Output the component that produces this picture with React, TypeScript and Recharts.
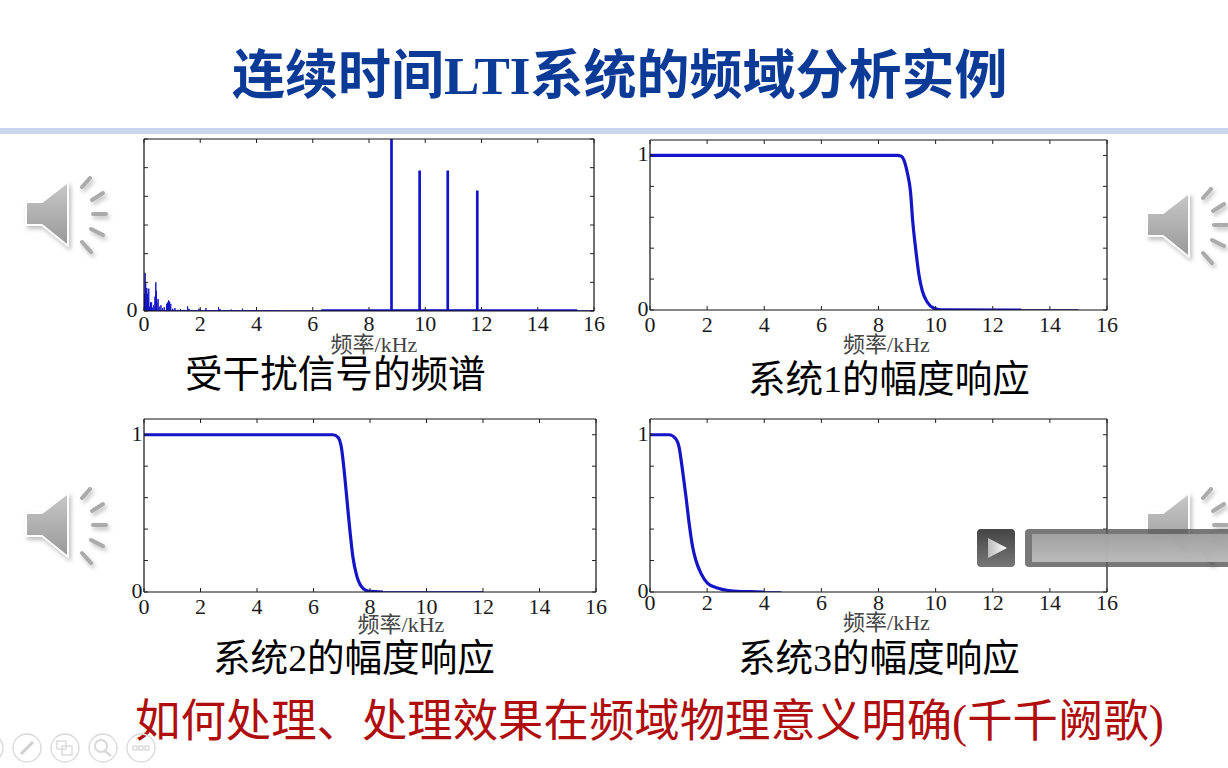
import React from "react";
import { ComposedChart, Line, XAxis, YAxis, Label } from "recharts";

const FONT = '"Liberation Serif", "Noto Sans CJK SC", serif';
const BLUE = "#1515c8";

const titleText = "连续时间LTI系统的频域分析实例";
const bottomText = "如何处理、处理效果在频域物理意义明确(千千阙歌)";
const freqLabel = "频率/kHz";
const freqTicks = [0, 2, 4, 6, 8, 10, 12, 14, 16];
const gainTicks = [0, 0.2, 0.4, 0.6, 0.8, 1];
const spectrumTicks = [0, 1, 2, 3, 4, 5, 6];

// Spectrum of the disturbed signal: frequency in kHz and stem amplitude
const noiseFreq = [0.02, 0.04, 0.06, 0.08, 0.1, 0.12, 0.14, 0.17, 0.2, 0.23, 0.27, 0.31, 0.35, 0.39, 0.42, 0.44, 0.46, 0.5, 0.54, 0.6, 0.66, 0.72, 0.8, 0.84, 0.87, 0.91, 0.95, 1.02, 1.1, 1.2, 1.3, 1.42, 1.55, 1.6, 1.7, 1.95, 2.0, 2.08, 2.2, 2.4, 2.65, 2.7, 2.85, 3.1, 3.3, 3.5, 3.75, 4.0, 4.4, 4.8];
const noiseAmp = [0.6, 1.33, 1.0, 0.8, 0.8, 0.6, 0.45, 0.78, 0.15, 0.3, 0.3, 0.12, 0.2, 0.5, 1.0, 0.7, 0.3, 0.42, 0.15, 0.2, 0.1, 0.13, 0.25, 0.3, 0.37, 0.33, 0.25, 0.08, 0.1, 0.04, 0.07, 0.04, 0.16, 0.08, 0.04, 0.08, 0.06, 0.03, 0.1, 0.03, 0.14, 0.07, 0.02, 0.05, 0.02, 0.08, 0.02, 0.04, 0.03, 0.01];
const toneFreq = [8.8, 9.8, 10.8, 11.85];
const toneAmp = [6.1, 4.9, 4.9, 4.2];
const floorFreq = [6.3, 15.4];
const floorAmp = [0.02, 0.02];
const thinFloorFreq = [0, 16];
const thinFloorAmp = [0, 0];

// Magnitude responses
const sys1Freq = [0, 8.66, 8.8, 8.89, 9.0, 9.12, 9.2, 9.3, 9.42, 9.53, 9.71, 9.94, 10.18, 13];
const sys1Gain = [1, 1, 0.995, 0.97, 0.896, 0.766, 0.57, 0.397, 0.223, 0.126, 0.05, 0.011, 0.001, 0];
const sys1TailFreq = [13, 15];
const sys1TailGain = [0, 0];

const sys2Freq = [0, 6.69, 6.87, 6.99, 7.1, 7.19, 7.28, 7.4, 7.52, 7.69, 7.93, 8.46];
const sys2Gain = [1, 1, 0.983, 0.915, 0.746, 0.576, 0.407, 0.216, 0.11, 0.036, 0.006, 0];
const sys2TailFreq = [8.46, 12];
const sys2TailGain = [0, 0];

const sys3Freq = [0, 0.67, 0.9, 1.02, 1.14, 1.26, 1.37, 1.49, 1.6, 1.78, 2.01, 2.36, 2.83, 3.53, 4];
const sys3Gain = [1, 1, 0.975, 0.92, 0.772, 0.605, 0.437, 0.289, 0.205, 0.12, 0.057, 0.025, 0.008, 0.002, 0];
const sys3TailFreq = [4, 4.6];
const sys3TailGain = [0, 0];

const zipRows = (f: number[], v: number[]) => f.map((x, i) => ({ f: x, v: v[i] }));
const stemRows = (f: number[], v: number[]) =>
  f.flatMap((x, i) => [{ f: x, v: 0 }, { f: x, v: v[i] }, { f: x, v: 0 }]);

const makeTick = (side: "b" | "t" | "l" | "r", labelled: number[], dx: number, dy: number) => (props: any) => {
  const { x, y, payload } = props;
  const len = 4;
  const v = payload.value;
  const line =
    side === "b" ? <line x1={x} x2={x} y1={y} y2={y - len} /> :
    side === "t" ? <line x1={x} x2={x} y1={y} y2={y + len} /> :
    side === "l" ? <line x1={x} x2={x + len} y1={y} y2={y} /> :
    <line x1={x} x2={x - len} y1={y} y2={y} />;
  return (
    <g>
      <g stroke="#222" strokeWidth={1}>{line}</g>
      {labelled.includes(v) && (
        <text x={x + dx} y={y + dy} textAnchor="middle" fontFamily={FONT} fontSize={22} fill="#1a1a1a">{v}</text>
      )}
    </g>
  );
};

type Series = { rows: { f: number; v: number }[]; width: number; monotone?: boolean; color?: string };

function Panel(p: {
  left: number; top: number; right: number; bottom: number;
  series: Series[]; yMax: number; yTicks: number[]; yLabelled: number[];
  xLabelDy: number; yLabelDx: number; titleDx: number; titleDy: number;
}) {
  const pad = 40;
  const w = p.right - p.left + pad * 2;
  const h = p.bottom - p.top + 70;
  return (
    <div style={{ position: "absolute", left: p.left - pad, top: p.top - 10 }}>
      <ComposedChart width={w} height={h} margin={{ top: 9, left: pad - 1, right: pad - 1, bottom: 59 }}>
        <XAxis xAxisId="b" dataKey="f" type="number" domain={[0, 16]} ticks={freqTicks} interval={0} height={1}
          orientation="bottom" stroke="#111" strokeWidth={1.2} tickLine={false} tickSize={0} tickMargin={0}
          allowDataOverflow tick={makeTick("b", freqTicks, 0, p.xLabelDy)}>
          <Label value={freqLabel} position="bottom" offset={p.titleDy} dx={p.titleDx}
            style={{ fontFamily: FONT, fontSize: 22, fill: "#444" }} />
        </XAxis>
        <XAxis xAxisId="t" dataKey="f" type="number" domain={[0, 16]} ticks={freqTicks} interval={0} height={1}
          orientation="top" stroke="#111" strokeWidth={1.2} tickLine={false} tickSize={0} tickMargin={0}
          allowDataOverflow tick={makeTick("t", [], 0, 0)} />
        <YAxis yAxisId="l" type="number" domain={[0, p.yMax]} ticks={p.yTicks} interval={0} width={1}
          orientation="left" stroke="#111" strokeWidth={1.2} tickLine={false} tickSize={0} tickMargin={0}
          allowDataOverflow tick={makeTick("l", p.yLabelled, p.yLabelDx, 6)} />
        <YAxis yAxisId="r" type="number" domain={[0, p.yMax]} ticks={p.yTicks} interval={0} width={1}
          orientation="right" stroke="#111" strokeWidth={1.2} tickLine={false} tickSize={0} tickMargin={0}
          allowDataOverflow tick={makeTick("r", [], 0, 0)} />
        {p.series.map((s, i) => (
          <Line key={i} xAxisId="b" yAxisId="l" data={s.rows} dataKey="v" type={s.monotone ? "monotone" : "linear"}
            stroke={s.color || BLUE} strokeWidth={s.width} dot={false} activeDot={false} isAnimationActive={false} />
        ))}
      </ComposedChart>
    </div>
  );
}

const Txt = (p: { x: number; cy: number; size: number; color: string; bold?: boolean; children: React.ReactNode }) => (
  <div style={{
    position: "absolute", left: p.x, top: p.cy - p.size, lineHeight: `${p.size * 2}px`, fontSize: p.size,
    color: p.color, fontFamily: FONT, fontWeight: p.bold ? 700 : 400, whiteSpace: "nowrap",
  }}>{p.children}</div>
);

const Speaker = ({ dx, dy, id }: { dx: number; dy: number; id: string }) => (
  <svg width={110} height={100} style={{ position: "absolute", left: 20 + dx, top: 170 + dy, overflow: "visible", filter: "drop-shadow(2px 3px 2px rgba(0,0,0,0.25))" }}>
    <defs>
      <linearGradient id={id} x1="0" x2="0" y1="0" y2="1">
        <stop offset="0" stopColor="#c8c8c8" />
        <stop offset="1" stopColor="#989898" />
      </linearGradient>
    </defs>
    <path d="M6 32 H22 L48 12 V76 L22 55 H6 Z" fill={`url(#${id})`} stroke="#fff" strokeWidth={2} strokeLinejoin="round" />
    <g stroke="#ababab" strokeWidth={4} strokeLinecap="round">
      <line x1={62} y1={17} x2={70} y2={8} />
      <line x1={72} y1={30} x2={83} y2={23} />
      <line x1={73} y1={44} x2={86} y2={44} />
      <line x1={71} y1={59} x2={83} y2={65} />
      <line x1={62} y1={72} x2={71} y2={82} />
    </g>
  </svg>
);

const PageButtons = () => (
  <svg width={170} height={40} style={{ position: "absolute", left: 0, top: 728 }}>
    <g fill="none" stroke="#d8d8d8" strokeWidth={1.3}>
      {[-11, 27, 65, 103, 141].map((c) => <circle key={c} cx={c} cy={20} r={14} />)}
      <line x1={21} y1={26} x2={33} y2={14} strokeWidth={3} stroke="#cfcfcf" />
      <rect x={57} y={13} width={9} height={8} />
      <rect x={62} y={18} width={10} height={9} />
      <circle cx={101} cy={18} r={6} strokeWidth={2} />
      <line x1={105} y1={23} x2={111} y2={28} strokeWidth={2.5} />
      <rect x={133} y={18} width={4} height={4} />
      <rect x={139} y={18} width={4} height={4} />
      <rect x={145} y={18} width={4} height={4} />
    </g>
  </svg>
);

const Player = () => (
  <svg width={260} height={44} style={{ position: "absolute", left: 970, top: 526 }}>
    <defs>
      <linearGradient id="playBg" x1="0" x2="0" y1="0" y2="1">
        <stop offset="0" stopColor="#444" />
        <stop offset="1" stopColor="#777" />
      </linearGradient>
      <linearGradient id="barBg" x1="0" x2="0" y1="0" y2="1">
        <stop offset="0" stopColor="#a5a5a5" stopOpacity={0.9} />
        <stop offset="1" stopColor="#c2c2c2" stopOpacity={0.9} />
      </linearGradient>
      <linearGradient id="tri" x1="0" x2="1" y1="0" y2="0">
        <stop offset="0" stopColor="#bbb" />
        <stop offset="1" stopColor="#fff" />
      </linearGradient>
    </defs>
    <rect x={7} y={3} width={38} height={38} rx={4} fill="url(#playBg)" />
    <path d="M18 12 L37 22 L18 32 Z" fill="url(#tri)" />
    <rect x={55} y={3} width={210} height={38} rx={4} fill="#5a5a5a" fillOpacity={0.82} />
    <rect x={62} y={8} width={210} height={28} fill="url(#barBg)" />
  </svg>
);

export default function App() {
  return (
    <div style={{ position: "fixed", left: 0, top: 0, width: 1228, height: 768, overflow: "hidden", background: "#fff" }}>
      <Txt x={232} cy={76} size={53} color="#0b3b97" bold>{titleText}</Txt>
      <div style={{ position: "absolute", left: 0, top: 128, width: 1228, height: 6, background: "#c9d6ee" }} />

      <Speaker dx={0} dy={0} id="s1" />
      <Speaker dx={1121} dy={11} id="s2" />
      <Speaker dx={0} dy={311} id="s3" />
      <Speaker dx={1121} dy={311} id="s4" />

      <Panel left={144} top={139} right={594} bottom={311}
        series={[
          { rows: zipRows(thinFloorFreq, thinFloorAmp), width: 1.5 },
          { rows: stemRows(noiseFreq, noiseAmp), width: 1 },
          { rows: zipRows(floorFreq, floorAmp), width: 2.5 },
          { rows: stemRows(toneFreq, toneAmp), width: 2.7 },
        ]}
        yMax={6} yTicks={spectrumTicks} yLabelled={[0]} xLabelDy={20} yLabelDx={-12} titleDx={5} titleDy={24} />
      <Panel left={650} top={140} right={1107} bottom={310}
        series={[
          { rows: zipRows(sys1TailFreq, sys1TailGain), width: 1.5, color: "#1a1a80" },
          { rows: zipRows(sys1Freq, sys1Gain), width: 3.2, monotone: true },
        ]}
        yMax={1.1} yTicks={gainTicks} yLabelled={[0, 1]} xLabelDy={22} yLabelDx={-7} titleDx={8} titleDy={25} />
      <Panel left={144} top={419} right={596} bottom={592}
        series={[
          { rows: zipRows(sys2TailFreq, sys2TailGain), width: 1.5 },
          { rows: zipRows(sys2Freq, sys2Gain), width: 3.2, monotone: true },
        ]}
        yMax={1.1} yTicks={gainTicks} yLabelled={[0, 1]} xLabelDy={22} yLabelDx={-7} titleDx={31} titleDy={23} />
      <Panel left={650} top={419} right={1107} bottom={592}
        series={[
          { rows: zipRows(sys3TailFreq, sys3TailGain), width: 1.5 },
          { rows: zipRows(sys3Freq, sys3Gain), width: 3.2, monotone: true },
        ]}
        yMax={1.1} yTicks={gainTicks} yLabelled={[0, 1]} xLabelDy={18} yLabelDx={-7} titleDx={8} titleDy={21} />

      <Txt x={185} cy={375} size={37.6} color="#000">受干扰信号的频谱</Txt>
      <Txt x={748} cy={380} size={37.6} color="#000">系统1的幅度响应</Txt>
      <Txt x={213} cy={659} size={37.6} color="#000">系统2的幅度响应</Txt>
      <Txt x={738} cy={659} size={37.6} color="#000">系统3的幅度响应</Txt>
      <Txt x={135} cy={722} size={45.4} color="#b00d0d">{bottomText}</Txt>

      <Player />
      <PageButtons />
    </div>
  );
}
